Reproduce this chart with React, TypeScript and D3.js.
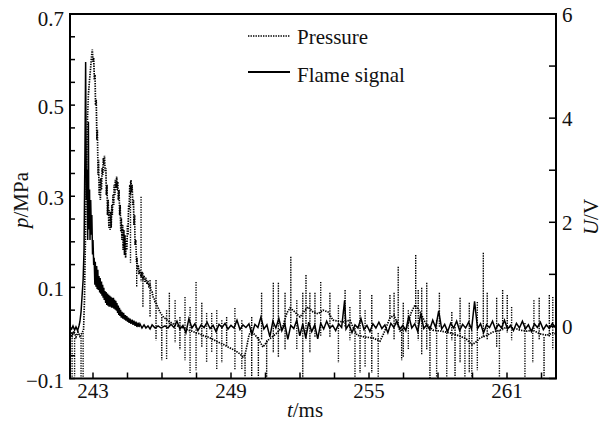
import React from 'react';
import * as d3 from 'd3';

// Pressure trend (t in ms, p in MPa)
const pressureTrend: [number, number][] = [
  [242.00, 0.000], [242.09, -0.007], [242.17, 0.004], [242.26, -0.009], [242.35, 0.002],
  [242.43, -0.007], [242.52, 0.000], [242.59, 0.006], [242.63, 0.072], [242.67, 0.204],
  [242.72, 0.358], [242.76, 0.468], [242.80, 0.523], [242.85, 0.556], [242.89, 0.578],
  [242.93, 0.604], [242.97, 0.622],
  [243.00, 0.595], [243.03, 0.604], [243.06, 0.556], [243.09, 0.567], [243.11, 0.500],
  [243.14, 0.512], [243.17, 0.424], [243.19, 0.446], [243.22, 0.347], [243.24, 0.380],
  [243.27, 0.303], [243.30, 0.336], [243.32, 0.292], [243.35, 0.340], [243.37, 0.314],
  [243.40, 0.362], [243.43, 0.347], [243.45, 0.384], [243.48, 0.369], [243.50, 0.389],
  [243.53, 0.354], [243.56, 0.362], [243.58, 0.303], [243.61, 0.325], [243.63, 0.259],
  [243.66, 0.292], [243.69, 0.231], [243.71, 0.270], [243.74, 0.226], [243.77, 0.266],
  [243.79, 0.231], [243.82, 0.281], [243.84, 0.259], [243.87, 0.303], [243.90, 0.281],
  [243.92, 0.325], [243.95, 0.303], [243.97, 0.336], [244.00, 0.318], [244.03, 0.343],
  [244.05, 0.314], [244.08, 0.332], [244.10, 0.292], [244.13, 0.314], [244.16, 0.259],
  [244.18, 0.281], [244.21, 0.222], [244.23, 0.253], [244.26, 0.204], [244.29, 0.237],
  [244.31, 0.182], [244.34, 0.226], [244.37, 0.171], [244.39, 0.215], [244.42, 0.165],
  [244.44, 0.204], [244.47, 0.182], [244.50, 0.237], [244.52, 0.215], [244.55, 0.281],
  [244.57, 0.270], [244.60, 0.325], [244.63, 0.303], [244.65, 0.336], [244.68, 0.310],
  [244.70, 0.325], [244.73, 0.281], [244.76, 0.292], [244.78, 0.237], [244.81, 0.259],
  [244.83, 0.193], [244.86, 0.204], [244.89, 0.156], [244.91, 0.165], [244.94, 0.138],
  [244.97, 0.149], [245.00, 0.129], [245.04, 0.138], [245.09, 0.123], [245.13, 0.134],
  [245.17, 0.116], [245.22, 0.125], [245.26, 0.112], [245.30, 0.121], [245.35, 0.107],
  [245.39, 0.114], [245.43, 0.103], [245.48, 0.107], [245.52, 0.094], [245.57, 0.090],
  [245.61, 0.079], [245.65, 0.077], [245.70, 0.068], [245.74, 0.066], [245.83, 0.055],
  [245.91, 0.046], [246.00, 0.039], [246.09, 0.033], [246.17, 0.031], [246.26, 0.026],
  [246.35, 0.024], [246.48, 0.020], [246.61, 0.017], [246.78, 0.013], [246.96, 0.011],
  [247.13, 0.006], [247.30, 0.004], [247.48, 0.000], [247.65, -0.002], [247.83, -0.007],
  [248.00, -0.009], [248.17, -0.013], [248.35, -0.018], [248.52, -0.022], [248.70, -0.026],
  [248.87, -0.031], [249.04, -0.035], [249.22, -0.040], [249.39, -0.046], [249.52, -0.053],
  [249.61, -0.048], [249.70, -0.026], [249.78, -0.005], [249.87, 0.004], [249.96, 0.000],
  [250.09, -0.007], [250.22, -0.016], [250.39, -0.031], [250.61, -0.016], [250.78, -0.009],
  [251.00, 0.000], [251.26, 0.015], [251.43, 0.044], [251.57, 0.055], [251.78, 0.046],
  [252.00, 0.035], [252.22, 0.050], [252.35, 0.057], [252.57, 0.046], [252.78, 0.042],
  [253.00, 0.050], [253.22, 0.046], [253.43, 0.028], [253.65, 0.026], [253.87, 0.024],
  [254.17, 0.028], [254.30, 0.013], [254.48, -0.005], [254.83, -0.009], [255.17, -0.011],
  [255.48, -0.018], [255.65, 0.000], [255.91, 0.033], [256.09, 0.039], [256.35, 0.004],
  [256.65, 0.013], [256.83, 0.044], [257.00, 0.061], [257.22, 0.046], [257.43, 0.024],
  [257.78, 0.006], [258.13, 0.004], [258.52, 0.000], [258.96, -0.007], [259.22, -0.013],
  [259.48, -0.026], [259.65, -0.020], [259.83, -0.011], [260.13, -0.005], [260.39, 0.002],
  [260.70, 0.006], [261.00, 0.013], [261.30, 0.011], [261.57, 0.006], [261.87, 0.004],
  [262.13, 0.006], [262.43, -0.002], [262.74, -0.005], [263.00, 0.000], [263.13, -0.002],
];

// Pressure spikes: [t, top p, bottom p]
const pressureSpikes: [number, number, number][] = [
  [242.09, 0.000, -0.097], [242.20, -0.011, -0.095], [242.48, -0.005, -0.099], [242.57, 0.000, -0.097],
  [244.63, 0.332, 0.154], [244.90, 0.160, 0.101], [245.09, 0.299, 0.112], [245.17, 0.132, 0.057],
  [245.48, 0.116, 0.035], [245.74, 0.116, -0.016], [245.99, 0.035, -0.060], [246.20, 0.050, -0.060],
  [246.32, 0.088, 0.013], [246.57, 0.072, -0.022], [246.78, 0.035, -0.037], [247.00, 0.079, -0.060],
  [247.22, 0.057, -0.088], [247.48, 0.112, -0.082], [247.73, 0.066, -0.031], [247.94, 0.044, -0.066],
  [248.16, 0.044, -0.044], [248.38, 0.050, -0.082], [248.60, 0.028, -0.066], [248.81, 0.035, -0.031],
  [249.17, 0.055, -0.082], [249.47, 0.028, -0.082], [249.61, -0.048, -0.097], [249.90, 0.035, -0.097],
  [250.19, -0.009, -0.097], [250.33, 0.088, -0.016], [250.55, -0.016, -0.097], [250.84, 0.110, -0.044],
  [251.06, 0.110, -0.053], [251.35, 0.088, -0.037], [251.60, 0.167, 0.022], [251.86, 0.072, -0.037],
  [252.12, 0.088, -0.099], [252.26, 0.127, -0.016], [252.43, 0.088, -0.044], [252.65, 0.088, -0.009],
  [252.90, 0.112, -0.009], [253.30, 0.088, -0.009], [253.67, 0.061, -0.066], [253.96, 0.094, 0.013],
  [254.17, 0.057, -0.016], [254.39, 0.011, -0.097], [254.61, 0.094, -0.088], [254.83, 0.050, -0.075],
  [255.12, 0.083, -0.088], [255.40, 0.000, -0.097], [255.91, 0.083, 0.028], [256.09, 0.088, -0.016],
  [256.27, 0.145, 0.013], [256.42, 0.013, -0.060], [256.49, 0.066, -0.053], [256.71, 0.050, -0.037],
  [257.03, 0.171, 0.022], [257.14, 0.094, -0.016], [257.29, 0.099, -0.048], [257.51, 0.110, -0.037],
  [257.65, 0.013, -0.099], [257.94, 0.028, -0.097], [258.06, 0.088, 0.013], [258.38, 0.006, -0.097],
  [258.60, 0.046, -0.016], [258.74, 0.013, -0.097], [258.96, 0.077, -0.066], [259.17, 0.006, -0.097],
  [259.36, 0.066, -0.088], [259.47, 0.006, -0.097], [259.71, 0.068, -0.082], [259.97, 0.176, -0.009],
  [260.14, 0.088, -0.016], [260.55, 0.077, -0.031], [260.67, 0.006, -0.097], [260.81, 0.094, 0.006],
  [261.01, 0.083, 0.000], [261.20, 0.057, -0.016], [261.78, 0.022, -0.097], [262.12, 0.006, -0.066],
  [262.17, 0.072, 0.006], [262.40, 0.077, -0.016], [262.61, -0.009, -0.097], [262.84, 0.083, -0.009],
  [262.99, 0.079, -0.037],
];

// Flame signal (t in ms, U in V)
const flameSignal: [number, number][] = [
  [242.00, -0.01], [242.07, -0.05], [242.13, 0.01], [242.20, -0.07], [242.26, -0.01],
  [242.33, -0.08], [242.39, 0.01], [242.43, 0.09], [242.48, 0.28], [242.52, 0.55],
  [242.57, 0.89], [242.61, 1.47], [242.65, 3.39], [242.68, 5.08], [242.71, 2.43],
  [242.74, 3.01], [242.77, 1.66], [242.80, 3.93], [242.82, 1.86], [242.85, 2.63],
  [242.87, 1.66], [242.90, 2.43], [242.93, 1.76], [242.95, 2.14], [242.98, 1.38],
  [243.00, 1.66], [243.03, 1.18], [243.05, 1.32], [243.08, 0.80], [243.10, 1.24],
  [243.13, 0.76], [243.16, 1.16], [243.18, 0.72], [243.21, 1.09], [243.23, 0.70],
  [243.26, 0.97], [243.29, 0.65], [243.31, 0.93], [243.34, 0.63], [243.37, 0.86],
  [243.39, 0.59], [243.42, 0.80], [243.44, 0.55], [243.47, 0.74], [243.49, 0.51],
  [243.52, 0.68], [243.55, 0.45], [243.57, 0.66], [243.60, 0.41], [243.63, 0.63],
  [243.65, 0.40], [243.68, 0.61], [243.70, 0.38], [243.73, 0.59], [243.76, 0.38],
  [243.78, 0.57], [243.81, 0.36], [243.83, 0.55], [243.86, 0.36], [243.89, 0.55],
  [243.91, 0.34], [243.94, 0.51], [243.97, 0.32], [243.99, 0.49], [244.02, 0.30],
  [244.04, 0.45], [244.07, 0.26], [244.10, 0.40], [244.12, 0.22], [244.15, 0.36],
  [244.17, 0.20], [244.20, 0.32], [244.23, 0.17], [244.26, 0.28], [244.30, 0.15],
  [244.33, 0.26], [244.37, 0.13], [244.40, 0.22], [244.43, 0.11], [244.47, 0.20],
  [244.50, 0.09], [244.54, 0.17], [244.57, 0.07], [244.61, 0.15], [244.65, 0.05],
  [244.70, 0.13], [244.74, 0.03], [244.78, 0.11], [244.83, 0.01], [244.87, 0.09],
  [244.91, -0.01], [244.96, 0.07], [245.00, -0.01], [245.04, 0.05], [245.13, -0.03],
  [245.22, 0.03], [245.30, -0.03], [245.39, 0.01], [245.48, -0.05], [245.57, 0.03],
  [245.70, -0.03], [245.83, 0.01], [245.96, -0.03], [246.13, 0.01],
  [246.26, -0.03], [246.39, 0.04], [246.52, -0.02], [246.65, 0.10], [246.78, -0.05],
  [246.91, 0.02], [247.04, -0.12], [247.17, 0.15], [247.30, -0.03], [247.43, 0.05],
  [247.56, -0.08], [247.70, 0.03], [247.83, -0.02], [247.96, 0.08], [248.09, -0.04],
  [248.22, 0.02], [248.35, -0.10], [248.48, 0.04], [248.61, -0.02], [248.74, 0.06],
  [248.87, -0.05], [249.00, 0.02], [249.13, -0.03], [249.26, 0.12], [249.39, -0.06],
  [249.52, 0.03], [249.65, -0.02], [249.78, 0.05], [249.91, -0.15], [250.04, 0.04],
  [250.17, -0.02], [250.30, 0.18], [250.43, -0.05], [250.56, 0.03], [250.69, -0.20],
  [250.82, 0.10], [250.95, -0.03], [251.08, 0.15], [251.21, -0.08], [251.34, 0.05],
  [251.47, -0.25], [251.60, 0.02], [251.73, -0.04], [251.86, 0.12], [251.99, -0.18],
  [252.12, 0.05], [252.25, -0.22], [252.38, 0.08], [252.51, -0.10], [252.64, 0.03],
  [252.77, -0.24], [252.90, 0.06], [253.03, -0.05], [253.16, 0.10], [253.29, -0.03],
  [253.42, 0.02], [253.55, -0.08], [253.68, 0.05], [253.81, -0.02], [253.94, 0.50],
  [254.00, -0.05], [254.13, 0.04], [254.26, -0.12], [254.39, 0.03], [254.52, -0.03],
  [254.65, 0.15], [254.78, -0.06], [254.91, 0.02], [255.04, -0.10], [255.17, 0.05],
  [255.30, -0.03], [255.43, 0.08], [255.56, -0.04], [255.69, 0.03], [255.82, -0.12],
  [255.95, 0.06], [256.08, -0.02], [256.21, 0.10], [256.34, -0.05], [256.47, 0.02],
  [256.60, -0.08], [256.73, 0.20], [256.86, -0.03], [256.99, 0.05], [257.12, -0.10],
  [257.25, 0.25], [257.38, -0.04], [257.51, 0.03], [257.64, -0.06], [257.77, 0.12],
  [257.90, -0.02], [258.03, 0.30], [258.16, -0.05], [258.29, 0.04], [258.42, -0.10],
  [258.55, 0.06], [258.68, -0.03], [258.81, 0.10], [258.94, -0.08], [259.07, 0.04],
  [259.20, -0.03], [259.33, 0.08], [259.46, -0.05], [259.59, 0.48], [259.72, -0.04],
  [259.85, 0.05], [259.98, -0.12], [260.11, 0.03], [260.24, -0.02], [260.37, 0.10],
  [260.50, -0.06], [260.63, 0.04], [260.76, -0.03], [260.89, 0.12], [261.02, -0.05],
  [261.15, 0.02], [261.28, -0.08], [261.41, 0.06], [261.54, -0.03], [261.67, 0.10],
  [261.80, -0.05], [261.93, 0.03], [262.06, -0.10], [262.19, 0.05], [262.32, -0.02],
  [262.45, 0.08], [262.58, -0.06], [262.71, 0.03], [262.84, -0.04], [262.97, 0.06],
  [263.10, -0.02],
];

const xTickLabels = [243, 249, 255, 261];
const pTickLabels = [0.7, 0.5, 0.3, 0.1, -0.1];
const uTickLabels = [6, 4, 2, 0];
const legendLabels = ['Pressure', 'Flame signal'];

const W = 607;
const H = 429;
const L = 70, R = 556, T = 14, B = 378.5;
const FONT = '"Liberation Serif"';

export default function App() {
  const x = d3.scaleLinear().domain([242, 263.13]).range([L, R]);
  const yP = d3.scaleLinear().domain([-0.1, 0.7]).range([B, T]);
  const yU = d3.scaleLinear().domain([-1, 6]).range([B, T]);
  const pLine = d3.line<[number, number]>().x(d => x(d[0])).y(d => yP(d[1]));
  const uLine = d3.line<[number, number]>().x(d => x(d[0])).y(d => yU(d[1]));

  const xTicks = d3.range(0, 14).map(i => 243 + i * 1.5).filter(v => v <= 263.13);
  const pTicks = d3.range(0, 17).map(i => -0.1 + i * 0.05);
  const uTicks = d3.range(0, 8).map(i => -1 + i);
  const fmtP = (v: number) => (v < 0 ? '\u2212' : '') + Math.abs(v).toFixed(1);

  const dotted = '1.4,1.1';
  const txt = { fontFamily: FONT, fontSize: 21, fill: '#111' } as React.CSSProperties;

  return (
    <svg width={W} height={H} style={{ position: 'absolute', left: 0, top: 0, background: '#fff' }}>
      <defs>
        <clipPath id="plot">
          <rect x={L} y={T} width={R - L} height={B - T} />
        </clipPath>
      </defs>
      <rect x={0} y={0} width={W} height={H} fill="#fff" />
      <g clipPath="url(#plot)">
        {pressureSpikes.map((s, i) => (
          <path key={i} d={pLine([[s[0], s[1]], [s[0], s[2]]]) || ''} fill="none" stroke="#000"
            strokeWidth={1.4} strokeDasharray={dotted} />
        ))}
        <path d={pLine(pressureTrend) || ''} fill="none" stroke="#000" strokeWidth={1.7}
          strokeDasharray={dotted} />
        <path d={uLine(flameSignal) || ''} fill="none" stroke="#000" strokeWidth={1.5}
          strokeLinejoin="miter" />
      </g>

      {/* frame */}
      <rect x={L} y={T} width={R - L} height={B - T} fill="none" stroke="#000" strokeWidth={2} />

      {/* left ticks */}
      {pTicks.map((v, i) => (
        <line key={i} x1={L} x2={L + 5} y1={yP(v)} y2={yP(v)} stroke="#000" strokeWidth={1.5} />
      ))}
      {pTickLabels.map(v => (
        <text key={v} x={L - 6} y={yP(v) + (v > 0.65 ? 5 : 2)} textAnchor="end" dominantBaseline="central"
          style={txt}>{fmtP(v)}</text>
      ))}

      {/* right ticks */}
      {uTicks.map((v, i) => (
        <line key={i} x1={R - 7} x2={R} y1={yU(v)} y2={yU(v)} stroke="#000" strokeWidth={1.5} />
      ))}
      {uTickLabels.map(v => (
        <text key={v} x={R + 6} y={yU(v) + 1} textAnchor="start" dominantBaseline="central"
          style={txt}>{v}</text>
      ))}

      {/* bottom ticks */}
      {xTicks.map((v, i) => (
        <line key={i} x1={x(v)} x2={x(v)} y1={B} y2={B - 6} stroke="#000" strokeWidth={1.5} />
      ))}
      {xTickLabels.map(v => (
        <text key={v} x={x(v)} y={398} textAnchor="middle" style={txt}>{v}</text>
      ))}

      {/* axis titles */}
      <text x={305} y={417} textAnchor="middle" style={txt}>
        <tspan fontStyle="italic">t</tspan>/ms
      </text>
      <text transform="translate(28,200) rotate(-90)" textAnchor="middle" style={txt}>
        <tspan fontStyle="italic">p</tspan>/MPa
      </text>
      <text transform="translate(598,217) rotate(-90)" textAnchor="middle" style={txt}>
        <tspan fontStyle="italic">U</tspan>/V
      </text>

      {/* legend */}
      <line x1={248} x2={290} y1={36} y2={36} stroke="#000" strokeWidth={1.5} strokeDasharray={dotted} />
      <text x={297} y={44} style={txt}>{legendLabels[0]}</text>
      <line x1={248} x2={290} y1={72} y2={72} stroke="#000" strokeWidth={2} />
      <text x={297} y={82} style={txt}>{legendLabels[1]}</text>
    </svg>
  );
}
